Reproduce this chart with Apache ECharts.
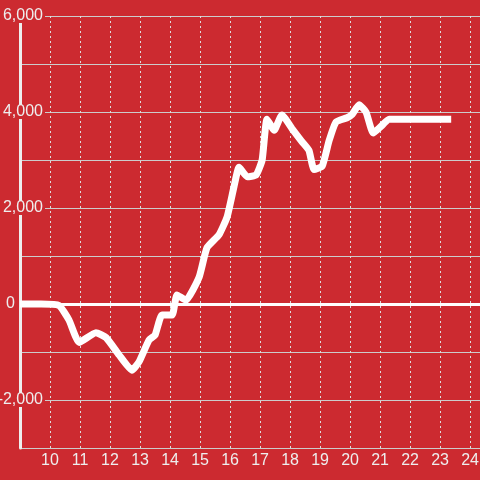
<!DOCTYPE html>
<html>
<head>
<meta charset="utf-8">
<script src="https://cdn.jsdelivr.net/npm/echarts@6/dist/echarts.min.js"></script>
<style>
html, body { margin: 0; padding: 0; background: #cc2a30; }
#main { width: 480px; height: 480px; }
</style>
</head>
<body>
<div id="main"></div>
<script>
// hour of day
var hours = [9.0, 9.7, 10.3, 10.63, 10.97, 11.53, 11.87, 12.3, 12.73, 12.97, 13.3, 13.5, 13.73, 14.07,
	14.23, 14.53, 14.97, 15.23, 15.63, 15.9, 16.13, 16.3, 16.57, 16.87, 17.07, 17.23, 17.47, 17.73,
	18.07, 18.4, 18.63, 18.8, 19.07, 19.3, 19.53, 19.9, 20.07, 20.3, 20.53, 20.77, 21.03, 21.3, 23.37];
// value
var values = [0, 0, -30, -330, -800, -600, -700, -1060, -1380, -1200, -750, -650, -230, -230,
	190, 80, 560, 1170, 1440, 1810, 2440, 2850, 2650, 2690, 3000, 3850, 3620, 3940,
	3650, 3380, 3200, 2800, 2870, 3400, 3790, 3880, 3950, 4150, 4000, 3560, 3700, 3850, 3850];

var bg = '#cc2a30';
var myData = [];
for (var i = 0; i < hours.length; i++) {
	myData.push([hours[i], values[i]]);
}

var myChart = echarts.init(document.getElementById('main'));
var option = {
	backgroundColor: bg,
	animation: false,
	grid: {left: 20, right: 0, top: 16, bottom: 32, containLabel: false, outerBoundsMode: 'none'},
	xAxis: {
		type: 'value',
		min: 9,
		max: 24.33,
		interval: 1,
		axisLine: {show: false},
		axisTick: {show: false},
		axisLabel: {
			color: '#eeeeee',
			fontSize: 16,
			fontFamily: 'Liberation Sans',
			margin: 5,
			showMinLabel: false,
			showMaxLabel: false
		},
		splitLine: {
			show: true,
			lineStyle: {color: '#dddddd', width: 1, type: [2, 3]}
		}
	},
	yAxis: {
		type: 'value',
		min: -3000,
		max: 6000,
		interval: 1000,
		axisLine: {show: true, lineStyle: {color: '#eeeeee', width: 3}},
		axisTick: {show: false},
		axisLabel: {
			margin: -25,
			align: 'right',
			formatter: function (v) {
				if (v === 0) return '{z|0}';
				if (v % 2000 !== 0) return '';
				return '{a|' + v.toLocaleString('en-US') + '}';
			},
			rich: {
				a: {
					color: '#eeeeee', fontSize: 16, fontFamily: 'Liberation Sans',
					backgroundColor: bg, padding: [0, 2, 0, 2], height: 14, lineHeight: 14
				},
				z: {
					color: '#eeeeee', fontSize: 16, fontFamily: 'Liberation Sans',
					padding: [0, 30, 0, 0]
				}
			}
		},
		splitLine: {
			show: true,
			lineStyle: {color: '#cccccc', width: 1}
		}
	},
	series: [{
		type: 'line',
		data: myData,
		smooth: 0.15,
		symbol: 'none',
		lineStyle: {color: '#ffffff', width: 7},
		markLine: {
			silent: true,
			symbol: 'none',
			label: {show: false},
			lineStyle: {color: '#ffffff', width: 3, type: 'solid'},
			data: [{yAxis: 0}]
		}
	}]
};
myChart.setOption(option);
</script>
</body>
</html>
